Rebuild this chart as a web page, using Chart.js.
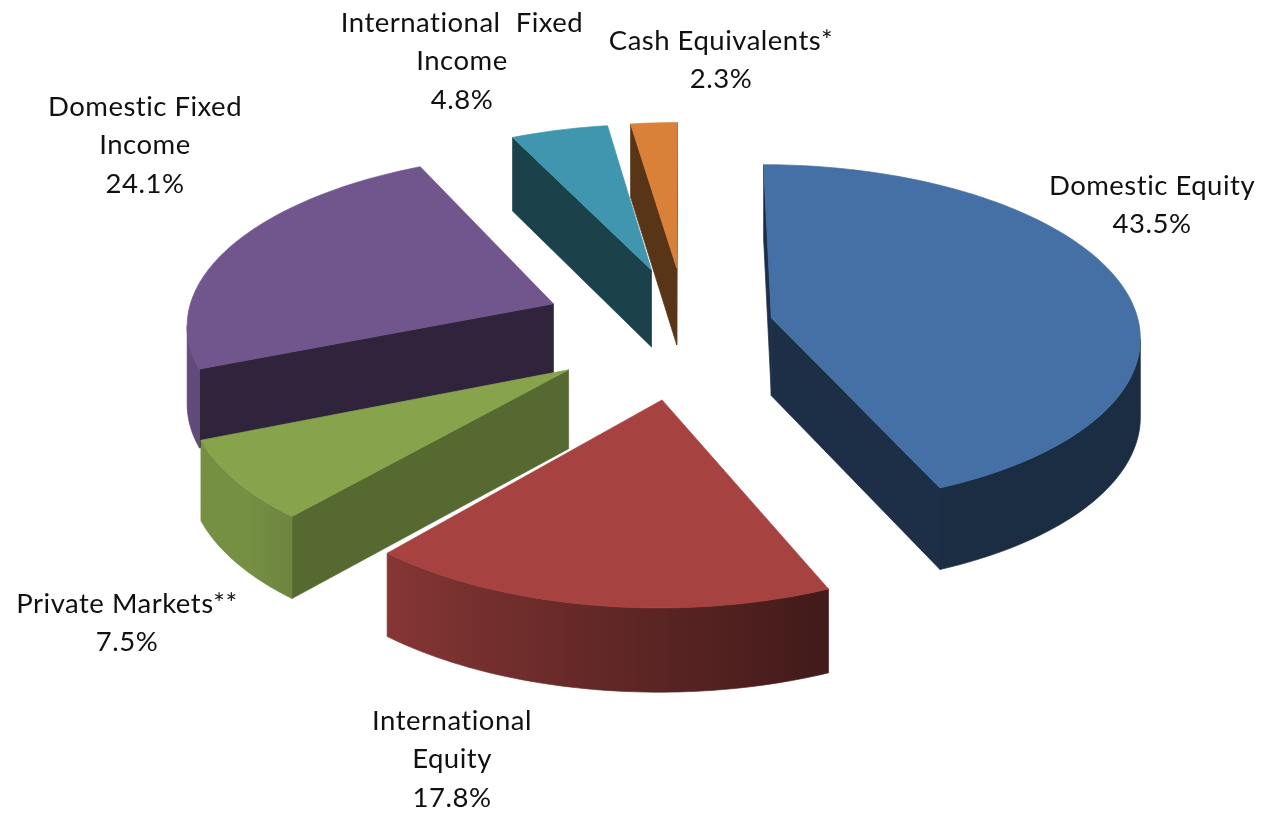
<!DOCTYPE html>
<html>
<head>
<meta charset="utf-8">
<title>Asset allocation</title>
<script src="https://cdn.jsdelivr.net/npm/chart.js@4"></script>
<style>
  html, body { margin: 0; padding: 0; background: #fff; }
  canvas { display: block; }
</style>
</head>
<body>
<canvas id="allocation" width="1264" height="813"></canvas>
<script>
const categories = [
  ["Domestic Equity"],
  ["International", "Equity"],
  ["Private Markets**"],
  ["Domestic Fixed", "Income"],
  ["International  Fixed", "Income"],
  ["Cash Equivalents*"],
];
const shares = [43.5, 17.8, 7.5, 24.1, 4.8, 2.3];

const faceColors = ["#4470a6", "#a64341", "#87a44d", "#70568c", "#3f96ae", "#da8139"];
const explode = [79, 149, 133, 128, 107, 107];
// brightness of the flat cut walls, relative to the top face
const cutShade = [0.42, 0.42, 0.64, 0.42, 0.43, 0.41];
// small screen nudges for slices that sit off the common tilt
const sliceNudge = [[1, 5], [3, 0], [6, 8], [-1, 6], [0, 0], [0, 0]];
const labelSpots = [
  [1152, 186], [452, 721], [127, 604], [145, 107], [462, 23], [721, 41],
];

const view = { cx: 685, cy: 321, rx: 368, ry: 170, depth: 78, persp: 0.1 };
const lineGap = 38.5;

function project(px, py, nudge) {
  const w = 1 / (1 - view.persp * py);
  return {
    x: view.cx + view.rx * px * w + nudge[0],
    y: view.cy + view.ry * py * w + nudge[1],
    w,
  };
}

// same point on the underside of the slice
function dropped(p) {
  return { x: p.x, y: p.y + view.depth * Math.sqrt(p.w) };
}

function shadeColor(hex, k) {
  const n = parseInt(hex.slice(1), 16);
  const r = Math.round(((n >> 16) & 255) * k);
  const g = Math.round(((n >> 8) & 255) * k);
  const b = Math.round((n & 255) * k);
  return `rgb(${r},${g},${b})`;
}

// rim walls get lighter going round from the right side to the left
function rimShade(angle) {
  const deg = ((angle + Math.PI / 2) * 180) / Math.PI;
  const t = Math.min(1, Math.max(0, (deg - 158) / 72));
  return 0.4 + 0.47 * t;
}

function fillPath(ctx, points, paint) {
  ctx.fillStyle = paint;
  ctx.strokeStyle = paint;
  ctx.lineWidth = 0.7;
  ctx.beginPath();
  points.forEach((p, i) => (i ? ctx.lineTo(p.x, p.y) : ctx.moveTo(p.x, p.y)));
  ctx.closePath();
  ctx.fill();
  ctx.stroke();
}

function fillCut(ctx, a, b, color) {
  fillPath(ctx, [a, b, dropped(b), dropped(a)], color);
}

// one shape for the visible part of the rim, shaded by a sideways gradient
function fillRim(ctx, run, base) {
  if (run.length < 2) return;
  const right = run[0].x;
  const left = run[run.length - 1].x;
  const grad = ctx.createLinearGradient(left, 0, right, 0);
  run.forEach((p) => {
    grad.addColorStop((p.x - left) / (right - left), shadeColor(base, rimShade(p.angle)));
  });
  fillPath(ctx, [...run, ...run.map(dropped).reverse()], grad);
}

function drawSlice(ctx, arc, i) {
  const mid = (arc.startAngle + arc.endAngle) / 2;
  const off = explode[i] / arc.outerRadius;
  const ox = Math.cos(mid) * off;
  const oy = Math.sin(mid) * off;
  const nudge = sliceNudge[i];
  const base = faceColors[i];

  const apex = project(ox, oy, nudge);
  const steps = Math.max(4, Math.ceil((arc.endAngle - arc.startAngle) / 0.02));
  const rim = [];
  for (let s = 0; s <= steps; s++) {
    const a = arc.startAngle + ((arc.endAngle - arc.startAngle) * s) / steps;
    const p = project(Math.cos(a) + ox, Math.sin(a) + oy, nudge);
    p.angle = a;
    rim.push(p);
  }

  // walls: only edges running leftwards on a clockwise outline face the viewer
  const cutColor = shadeColor(base, cutShade[i]);
  if (rim[0].x < apex.x) fillCut(ctx, apex, rim[0], cutColor);
  if (apex.x < rim[steps].x) fillCut(ctx, rim[steps], apex, cutColor);
  fillRim(ctx, rim.filter((p, s) => (s < steps && rim[s + 1].x < p.x) || (s > 0 && p.x < rim[s - 1].x)), base);

  fillPath(ctx, [apex, ...rim], base);
}

const tiltedPie = {
  id: "tiltedPie",
  beforeDatasetsDraw(chart) {
    const ctx = chart.ctx;
    const arcs = chart.getDatasetMeta(0).data;
    const order = arcs
      .map((arc, i) => {
        const mid = (arc.startAngle + arc.endAngle) / 2;
        return { arc, i, depth: (Math.sin(mid) * explode[i]) / arc.outerRadius };
      })
      .sort((a, b) => a.depth - b.depth);
    ctx.save();
    order.forEach((o) => drawSlice(ctx, o.arc, o.i));
    ctx.restore();
    return false; // slices are already painted, skip the flat ones
  },
  afterDraw(chart) {
    const ctx = chart.ctx;
    ctx.save();
    ctx.font = '27.5px Lato, "Open Sans", sans-serif';
    ctx.letterSpacing = "0.5px";
    ctx.fillStyle = "#111";
    ctx.textAlign = "center";
    ctx.textBaseline = "middle";
    chart.data.labels.forEach((lines, i) => {
      const [x, y] = labelSpots[i];
      const rows = [...lines, `${shares[i].toFixed(1)}%`];
      rows.forEach((row, r) => ctx.fillText(row, x, y + r * lineGap));
    });
    ctx.restore();
  },
};

new Chart(document.getElementById("allocation"), {
  type: "pie",
  data: {
    labels: categories,
    datasets: [{ data: shares, backgroundColor: faceColors, offset: explode, borderWidth: 0 }],
  },
  options: {
    responsive: false,
    animation: false,
    events: [],
    plugins: { legend: { display: false }, tooltip: { enabled: false } },
  },
  plugins: [tiltedPie],
});
</script>
</body>
</html>
